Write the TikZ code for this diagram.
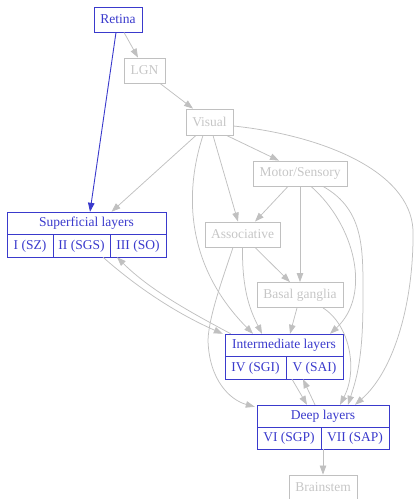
\documentclass[tikz,border=0pt]{standalone}
\usepackage{fontspec}
\setmainfont{Liberation Serif}
\usetikzlibrary{arrows.meta}
\definecolor{gvblue}{RGB}{58,58,204}
\definecolor{gvgray}{RGB}{192,192,192}
\definecolor{gvtext}{RGB}{198,198,198}
\begin{document}
\begin{tikzpicture}[x=1pt,y=-1pt,
  box/.style={draw=gvgray, text=gvtext, rectangle, inner sep=0pt, minimum height=25pt,
    font=\fontsize{13.5}{15}\selectfont, line width=0.8pt},
  bbox/.style={draw=gvblue, text=gvblue, rectangle, inner sep=0pt,
    font=\fontsize{13.5}{15}\selectfont, line width=0.8pt},
  rec/.style={draw=none, rectangle, inner sep=0pt},
  gedge/.style={draw=gvgray, line width=0.75pt, -{Triangle[length=9pt,width=6.5pt]}},
  bedge/.style={draw=gvblue, line width=0.9pt, -{Triangle[length=9pt,width=6.5pt]}}]
\useasboundingbox (0,0) rectangle (414,499);

% simple nodes
\node[bbox, minimum width=48pt, minimum height=25pt] (retina) at (118,19.5) {Retina};
\node[box, minimum width=41pt] (lgn) at (144.5,70.5) {LGN};
\node[box, minimum width=47pt, minimum height=26pt] (visual) at (209.5,122) {Visual};
\node[box, minimum width=94pt] (motor) at (300,173.5) {Motor/Sensory};
\node[box, minimum width=75pt] (assoc) at (242.5,234.5) {Associative};
\node[box, minimum width=86pt] (basal) at (300,295) {Basal ganglia};
\node[box, minimum width=68pt] (brain) at (323,487.5) {Brainstem};

% record: superficial
\node[rec, minimum width=159pt, minimum height=45pt] (sup) at (86.5,234.5) {};
\node[bbox, minimum width=159pt, minimum height=22.5pt] (suph) at (86.5,223.25) {Superficial layers};
\node[bbox, minimum width=46pt, minimum height=22.5pt] (supa) at (30,245.75) {I (SZ)};
\node[bbox, minimum width=57pt, minimum height=22.5pt] (supb) at (81.5,245.75) {II (SGS)};
\node[bbox, minimum width=56pt, minimum height=22.5pt] (supc) at (138,245.75) {III (SO)};

% record: intermediate
\node[rec, minimum width=118pt, minimum height=45pt] (inter) at (284,356.5) {};
\node[bbox, minimum width=118pt, minimum height=22.5pt] (interh) at (284,345.25) {Intermediate layers};
\node[bbox, minimum width=61pt, minimum height=22.5pt] (intera) at (255.5,367.75) {IV (SGI)};
\node[bbox, minimum width=57pt, minimum height=22.5pt] (interb) at (314.5,367.75) {V (SAI)};

% record: deep
\node[rec, minimum width=132pt, minimum height=44pt] (deep) at (323,427) {};
\node[bbox, minimum width=132pt, minimum height=22pt] (deeph) at (323,416) {Deep layers};
\node[bbox, minimum width=64pt, minimum height=22pt] (deepa) at (289,438) {VI (SGP)};
\node[bbox, minimum width=68pt, minimum height=22pt] (deepb) at (355,438) {VII (SAP)};

% edges
\draw[gedge] ([xshift=6pt]retina.south) -- ([xshift=-6.5pt]lgn.north);
\draw[bedge] ([xshift=-2pt]retina.south) -- ([xshift=3.5pt]sup.north);
\draw[gedge] ([xshift=15.5pt]lgn.south) -- ([xshift=-16.5pt]visual.north);
\draw[gedge] ([xshift=-13.5pt]visual.south) -- ([xshift=25pt]sup.north);
\draw[gedge] ([xshift=17pt]visual.south) -- ([xshift=-21pt]motor.north);
\draw[gedge] ([xshift=3.5pt]visual.south) -- ([xshift=-4.5pt]assoc.north);
\draw[gedge] ([xshift=-6.5pt]visual.south) .. controls (182,200) and (190,270) .. ([xshift=-31pt]inter.north);
\draw[gedge] ([yshift=-4pt]visual.east) .. controls (320,135) and (410,170) .. (413,230)
  .. controls (414,300) and (395,370) .. ([xshift=32pt]deep.north);
\draw[gedge] ([xshift=-12pt]motor.south) -- ([xshift=12.5pt]assoc.north);
\draw[gedge] (motor.south) -- (basal.north);
\draw[gedge] ([xshift=11pt]motor.south) .. controls (355,225) and (372,295) .. ([xshift=46pt]inter.north);
\draw[gedge] ([xshift=23pt]motor.south) .. controls (365,210) and (363,250) .. (363,300)
  .. controls (363,360) and (356,380) .. ([xshift=25pt]deep.north);
\draw[gedge] ([xshift=12.5pt]assoc.south) -- ([xshift=-10pt]basal.north);
\draw[gedge] (assoc.south) .. controls (242,290) and (250,310) .. ([xshift=-22pt]inter.north);
\draw[gedge] ([xshift=-9.5pt]assoc.south) .. controls (224,275) and (209,315) .. (208,340)
  .. controls (209,380) and (230,400) .. ([xshift=-2pt,yshift=-2pt]deep.north west);
\draw[gedge] ([xshift=-3pt]basal.south) -- ([xshift=6pt]inter.north);
\draw[gedge] ([xshift=23pt]basal.south) .. controls (350,325) and (358,370) .. ([xshift=17pt]deep.north);
\draw[gedge] ([xshift=16.5pt]sup.south) .. controls (140,290) and (180,315) .. ([xshift=-2pt]inter.north west);
\draw[gedge] ([xshift=6pt]inter.north west) .. controls (190,312) and (150,290) .. ([xshift=30.5pt]sup.south);
\draw[gedge] ([xshift=8pt]inter.south) -- ([xshift=-16pt]deep.north);
\draw[gedge] ([xshift=-8pt]deep.north) -- ([xshift=19pt]inter.south);
\draw[gedge] (deep.south) -- (brain.north);
\end{tikzpicture}
\end{document}
